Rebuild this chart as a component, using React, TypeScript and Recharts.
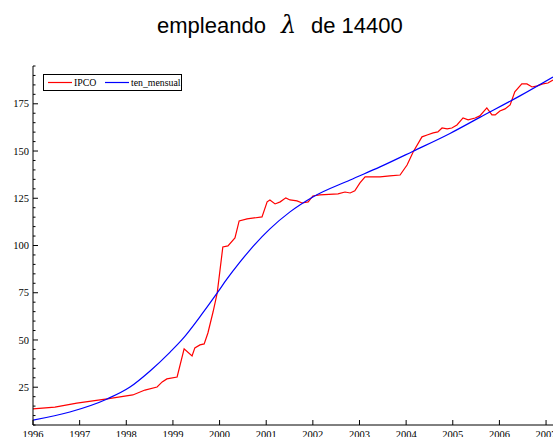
import React from 'react';
import { LineChart, Line, XAxis, YAxis } from 'recharts';

const ipcoYears = [1996.0, 1996.47, 1996.94, 1997.59, 1998.14, 1998.4, 1998.66, 1998.77, 1998.87, 1999.09, 1999.24, 1999.41, 1999.47, 1999.58, 1999.67, 1999.75, 1999.86, 1999.95, 2000.01, 2000.07, 2000.18, 2000.33, 2000.42, 2000.59, 2000.91, 2001.02, 2001.08, 2001.19, 2001.3, 2001.42, 2001.51, 2001.66, 2001.77, 2001.9, 2002.0, 2002.15, 2002.54, 2002.69, 2002.8, 2002.9, 2003.01, 2003.12, 2003.44, 2003.65, 2003.87, 2004.02, 2004.15, 2004.34, 2004.45, 2004.58, 2004.68, 2004.77, 2004.88, 2004.98, 2005.09, 2005.22, 2005.33, 2005.48, 2005.58, 2005.73, 2005.84, 2005.91, 2006.01, 2006.12, 2006.23, 2006.33, 2006.48, 2006.59, 2006.7, 2006.81, 2006.93, 2007.04, 2007.15];
const ipcoValues = [13.5, 14.5, 16.6, 18.8, 20.9, 23.5, 25.1, 27.8, 29.4, 30.4, 45.3, 41.5, 45.8, 47.4, 47.9, 53.7, 64.8, 74.9, 87.1, 99.2, 99.8, 104.0, 113.0, 114.1, 115.1, 123.1, 124.1, 122.0, 123.1, 125.2, 124.1, 123.6, 122.5, 123.1, 126.2, 126.8, 127.3, 128.3, 127.8, 128.9, 133.1, 136.3, 136.3, 136.8, 137.3, 142.6, 149.5, 157.5, 158.5, 159.6, 160.1, 162.2, 161.7, 162.2, 163.8, 167.5, 166.5, 167.5, 168.6, 172.8, 169.1, 169.1, 171.2, 172.3, 174.4, 181.3, 185.5, 185.5, 183.9, 184.5, 185.5, 186.0, 187.6];

const trendYears = [1996.0, 1996.79, 1997.59, 1998.08, 1998.51, 1998.94, 1999.19, 1999.64, 1999.95, 2000.16, 2000.44, 2000.65, 2001.08, 2001.51, 2002.0, 2002.8, 2003.44, 2004.15, 2004.94, 2005.58, 2006.44, 2007.15];
const trendValues = [7.6, 11.9, 18.8, 25.1, 33.6, 43.6, 50.0, 64.3, 74.9, 82.3, 91.3, 97.6, 108.8, 117.8, 125.7, 134.7, 141.6, 149.9, 159.3, 167.8, 179.2, 189.2];

const xTickYears = [1996, 1997, 1998, 1999, 2000, 2001, 2002, 2003, 2004, 2005, 2006, 2007];
const yMajorTicks = [25, 50, 75, 100, 125, 150, 175];
const yMinorTicks = [5, 10, 15, 20, 30, 35, 40, 45, 55, 60, 65, 70, 80, 85, 90, 95, 105, 110, 115, 120, 130, 135, 140, 145, 155, 160, 165, 170, 180, 185, 190, 195];

const seriesInfo = [
  { name: 'IPCO', color: '#ff0000' },
  { name: 'ten_mensual', color: '#0000ff' },
];

const ipcoData = ipcoYears.map((t, i) => ({ t, v: ipcoValues[i] }));
const trendData = trendYears.map((t, i) => ({ t, v: trendValues[i] }));
const yAllTicks = [...yMajorTicks, ...yMinorTicks].sort((a, b) => a - b);

const FONT = '"Liberation Serif", "Times New Roman", serif';

const XTick = (props: any) => {
  const { x, y, payload } = props;
  return (
    <g>
      <line x1={x} y1={y} x2={x} y2={y - 5} stroke="#000" strokeWidth={1} />
      <text x={x} y={y + 13} textAnchor="middle" fontFamily={FONT} fontSize={10.5} fill="#000">
        {payload.value}
      </text>
    </g>
  );
};

const YTick = (props: any) => {
  const { x, y, payload } = props;
  const major = yMajorTicks.includes(payload.value);
  return (
    <g>
      <line x1={x} y1={y} x2={x + (major ? 5 : 2.5)} y2={y} stroke="#000" strokeWidth={1} />
      {major && (
        <text x={x - 4} y={y + 3.7} textAnchor="end" fontFamily={FONT} fontSize={10.5} fill="#000">
          {payload.value}
        </text>
      )}
    </g>
  );
};

export default function App() {
  return (
    <div style={{ position: 'absolute', left: 0, top: 0, width: 553, height: 437, background: '#fff' }}>
      <LineChart width={553} height={437} margin={{ top: 66, right: 0, bottom: 0, left: 0 }}>
        <XAxis
          type="number"
          dataKey="t"
          domain={[1996, 2007.149]}
          ticks={xTickYears}
          allowDataOverflow
          height={12}
          tickSize={0}
          tickMargin={0}
          tick={<XTick />}
          axisLine={{ stroke: '#000', strokeWidth: 1 }}
          tickLine={false}
          interval={0}
        />
        <YAxis
          type="number"
          domain={[5, 195]}
          ticks={yAllTicks}
          allowDataOverflow
          width={33}
          tickSize={0}
          tickMargin={0}
          tick={<YTick />}
          axisLine={{ stroke: '#000', strokeWidth: 1 }}
          tickLine={false}
          interval={0}
        />
        <Line data={ipcoData} dataKey="v" type="linear" stroke="#ff0000" strokeWidth={1.2} dot={false} isAnimationActive={false} name="IPCO" />
        <Line data={trendData} dataKey="v" type="monotone" stroke="#0000ff" strokeWidth={1.2} dot={false} isAnimationActive={false} name="ten_mensual" />
      </LineChart>
      <svg width={553} height={437} style={{ position: 'absolute', left: 0, top: 0, pointerEvents: 'none' }}>
        <text x={157} y={33} fontFamily='"Liberation Sans", Arial, sans-serif' fontSize={22} fill="#000">empleando</text>
        <text x={281} y={33} fontFamily='"DejaVu Serif", serif' fontStyle="italic" fontSize={24} fill="#000">λ</text>
        <text x={311} y={33} fontFamily='"Liberation Sans", Arial, sans-serif' fontSize={22} fill="#000">de 14400</text>
        <rect x={43.5} y={74.5} width={138} height={16} fill="#fff" stroke="#000" strokeWidth={1} />
        {seriesInfo.map((s, i) => {
          const x0 = i === 0 ? 48 : 105;
          return (
            <g key={s.name}>
              <line x1={x0} y1={82.5} x2={x0 + 24} y2={82.5} stroke={s.color} strokeWidth={1.2} />
              <text x={x0 + 26} y={86} fontFamily={FONT} fontSize={9.8} fill="#000">{s.name}</text>
            </g>
          );
        })}
      </svg>
    </div>
  );
}
